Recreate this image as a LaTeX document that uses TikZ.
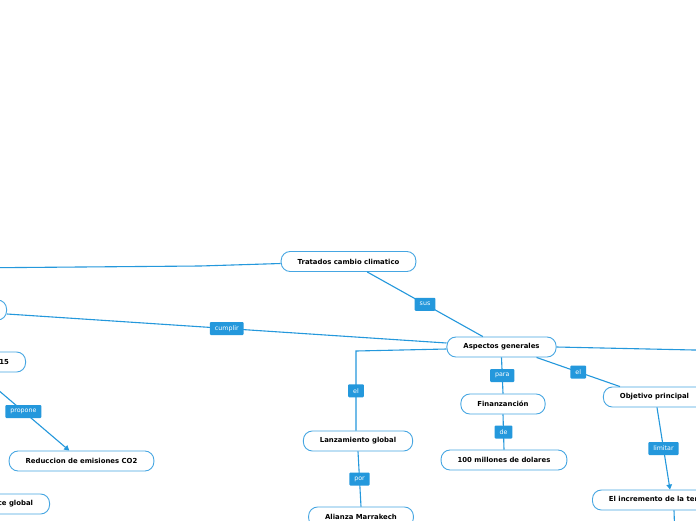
\documentclass[tikz,border=0pt]{standalone}
\usepackage{fontspec}
\setmainfont{DejaVu Sans}
\usepackage{xcolor}
\usepackage{tikz}
\usetikzlibrary{calc,arrows.meta}

\definecolor{mapa}{RGB}{36,152,220}
\definecolor{borde}{RGB}{70,166,226}

\tikzset{
	concepto/.style={draw=borde,line width=0.9pt,fill=white,rounded corners=9pt,
		minimum height=20pt,inner xsep=16.5pt,inner ysep=0pt,
		font=\fontsize{6.9}{8}\selectfont\bfseries,text=black},
	enlace/.style={fill=mapa,text=white,inner xsep=5pt,inner ysep=0pt,
		minimum height=13pt,rounded corners=1pt,
		font=\fontsize{6.3}{7}\selectfont},
	linea/.style={draw=mapa,line width=1.1pt},
	flecha/.style={linea,-{Triangle[length=5pt,width=5.5pt]}}
}

\begin{document}
\begin{tikzpicture}[x=1pt,y=-1pt]
						\fill[white] (0,0) rectangle (696,520);
						\useasboundingbox (0,0) rectangle (696,520);
						\clip (0,0) rectangle (696,520);
						
						\coordinate (Izq) at (-40,268);
						\coordinate (Q) at (200,266);
						\coordinate (Der) at (740,351);
						\coordinate (Codo) at (356,351);
						\coordinate (Abajo) at (675,540);
						
						\node (T) at (348.5,261.5) [concepto] {Tratados cambio climatico};
						\node (G) at (501.5,347) [concepto] {Aspectos generales};
						\node (F) at (503,404) [concepto] {Finanzanción};
						\node (M) at (504,460) [concepto] {100 millones de dolares};
						\node (O) at (654.5,397) [concepto] {Objetivo principal};
						\node (L) at (358,441) [concepto] {Lanzamiento global};
						\node (K) at (361,517) [concepto] {Alianza Marrakech};
						\node (I) at (592,500) [concepto,anchor=west] {El incremento de la temperatura};
						\node (R) at (81.5,461) [concepto] {Reduccion de emisiones CO2};
						\node (N) at (7,310) [concepto,anchor=east,minimum width=110pt] {};
						\node (P) at (26,362) [concepto,anchor=east] {Acuerdo de Paris 2015};
						\node (B) at (50,504) [concepto,anchor=east] {Balance global};
						
						\draw[linea] (Izq) -- (Q) -- ([yshift=-2pt]T.west);
						\draw[linea] (T) -- node[enlace] {sus} (G);
						\draw[linea] ([yshift=4pt]G.west) -- node[enlace] {cumplir} ([yshift=-4pt]N.east);
						\draw[linea] ([yshift=-2pt]G.west) -- (Codo) -- node[enlace] {el} (Codo |- L.north);
						\draw[linea] (G.south) -- node[enlace] {para} (F.north);
						\draw[linea] (F.south) -- node[enlace] {de} (M.north);
						\draw[linea] ([xshift=-20pt]G.south east) -- node[enlace] {el} ([xshift=17pt]O.north west);
						\draw[linea] (G.east) -- (Der);
						\draw[flecha] ([xshift=2.5pt]O.south) -- node[enlace] {limitar} ($(I.north west)+(78,0)$);
						\draw[linea] ($(I.south west)+(82,0)$) -- (Abajo);
						\draw[linea] (L.south) -- node[enlace] {por} (K.north);
						\draw[flecha] (P) -- node[enlace] {propone} (R);
					\end{tikzpicture}
\end{document}
